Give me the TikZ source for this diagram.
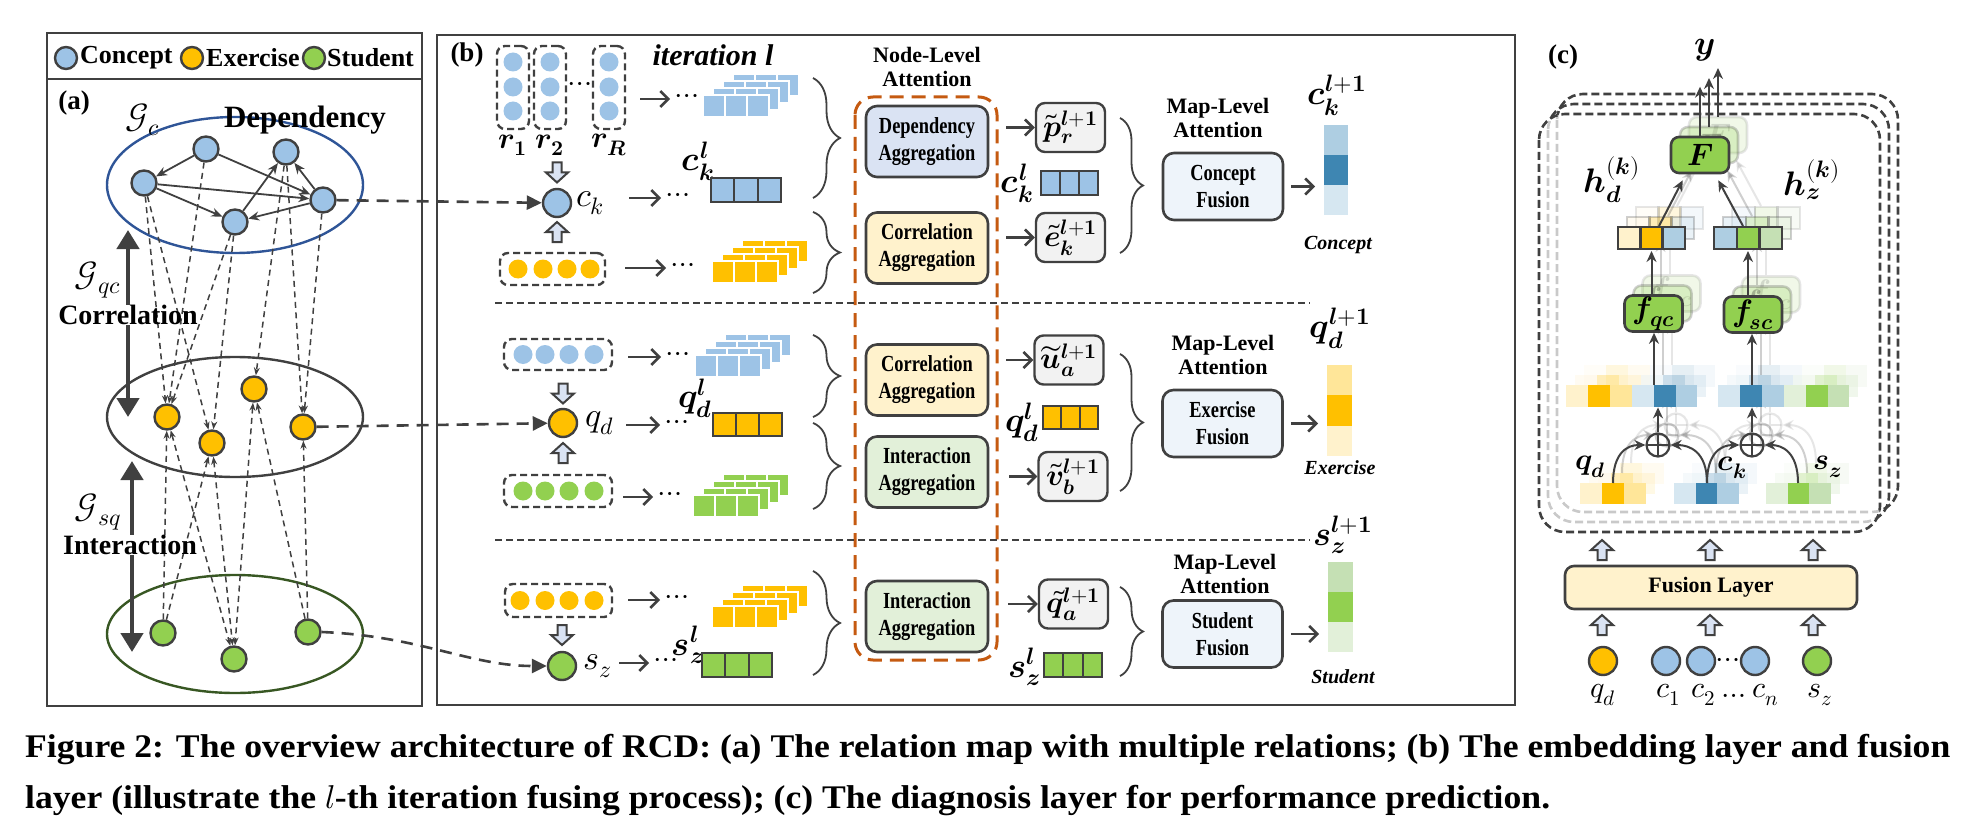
\documentclass[tikz,border=0pt]{standalone}
\usepackage{fontspec}
\usepackage{unicode-math}
\setmainfont{Liberation Serif}
\newfontfamily\condfont{Liberation Serif}[FakeStretch=0.8]
\newfontfamily\capfont{Liberation Serif}[FakeStretch=1.08]
\usetikzlibrary{arrows.meta,calc,positioning,decorations.pathreplacing}

\definecolor{darkline}{HTML}{404040}
\definecolor{cblue}{HTML}{9DC3E6}
\definecolor{eorange}{HTML}{FFC000}
\definecolor{sgreen}{HTML}{92D050}
\definecolor{gcring}{HTML}{2F5597}
\definecolor{gsring}{HTML}{385723}
\definecolor{attnorange}{HTML}{C55A11}
\definecolor{depfill}{HTML}{DAE3F3}
\definecolor{corfill}{HTML}{FFF2CC}
\definecolor{intfill}{HTML}{E2F0D9}
\definecolor{fusefill}{HTML}{EEF4FA}
\definecolor{tilfill}{HTML}{F2F2F2}
\definecolor{cbarA}{HTML}{AECEE2}
\definecolor{cbarB}{HTML}{3E86B2}
\definecolor{cbarC}{HTML}{D6E7F1}
\definecolor{ebarA}{HTML}{FFE699}
\definecolor{sbarA}{HTML}{C5E0B4}

\newcommand{\bv}[1]{\symbfit{#1}}
% row of cells: x, y, cell width, height, colours, extra path options
\newcommand{\cellrow}[6]{%
  \foreach \cc [count=\i from 0] in {#5}
    {\path[fill=\cc,#6] ({#1+#3*\i},#2) rectangle ++(#3,#4);}}
% stacked embedding tiles: front top-left x, y, colour
\newcommand{\tilestack}[3]{%
  \foreach \k in {3,2,1,0}{\foreach \i in {0,1,2}{%
    \path[fill=#3,draw=white,line width=1.4pt]
      ({#1+22*\i+10*\k},{#2-7*\k}) rectangle ++(22,22);}}}

\tikzset{
  cnode/.style={circle, draw=darkline, line width=2.4pt, fill=cblue, minimum size=25pt, inner sep=0pt},
  enode/.style={cnode, fill=eorange},
  snode/.style={cnode, fill=sgreen},
  legnode/.style={cnode, minimum size=22pt, fill=#1},
  emb/.style={circle, fill=#1, minimum size=19pt, inner sep=0pt},
  grp/.style={draw=darkline, line width=2.4pt, dash pattern=on 7pt off 4pt, rounded corners=8pt, inner sep=0pt},
  dep/.style={draw=darkline, line width=1.8pt, -{Stealth[length=11pt,width=9pt]}},
  rel/.style={draw=darkline, line width=1.5pt, dash pattern=on 6pt off 4.5pt},
  relto/.style={rel, -{Stealth[length=8pt,width=6pt]}},
  reltwo/.style={rel, {Stealth[length=8pt,width=6pt]}-{Stealth[length=8pt,width=6pt]}},
  bridge/.style={draw=darkline, line width=2.6pt, dash pattern=on 12pt off 8pt, -{Triangle[length=15pt,width=14pt]}},
  twoway/.style={draw=darkline, line width=4.5pt, -{Triangle[length=19pt,width=22pt]}},
  flow/.style={draw=darkline, line width=2.6pt, -{Straight Barb[length=8pt,width=16pt]}},
  flowc/.style={draw=darkline, line width=2pt, -{Stealth[length=11pt,width=10pt]}},
  sepline/.style={draw=darkline, line width=1.6pt, dash pattern=on 7pt off 4pt},
  curly/.style={draw=darkline, line width=1.8pt, decorate, decoration={brace, amplitude=#1, aspect=0.5}},
  aggbox/.style={draw=darkline, line width=2.6pt, rounded corners=11pt, fill=#1, minimum width=122pt, minimum height=71pt, inner sep=0pt, align=center, font=\condfont\bfseries\fontsize{23}{27}\selectfont},
  fusebox/.style={aggbox=fusefill, minimum width=120pt, minimum height=67pt},
  tbox/.style={draw=darkline, line width=2.4pt, rounded corners=9pt, fill=tilfill, minimum width=69pt, minimum height=49pt, inner sep=0pt, font=\fontsize{30}{30}\selectfont},
  gbox/.style={draw=darkline, line width=2.6pt, rounded corners=8pt, fill=sgreen, minimum width=58pt, minimum height=36pt, inner sep=0pt, font=\fontsize{31}{31}\selectfont},
  stackframe/.style={draw=darkline, line width=2.6pt, dash pattern=on 8pt off 4pt, rounded corners=26pt},
  oplus/.style={circle, draw=darkline, line width=2.2pt, minimum size=23pt, inner sep=0pt,
    path picture={\draw[darkline, line width=2pt] (path picture bounding box.north) -- (path picture bounding box.south)
      (path picture bounding box.west) -- (path picture bounding box.east);}},
  mbig/.style={inner sep=0pt, font=\fontsize{34}{34}\selectfont},
  mmid/.style={inner sep=0pt, font=\fontsize{30}{30}\selectfont},
  lbl/.style={inner sep=0pt, font=\bfseries\fontsize{#1}{#1}\selectfont},
  ilbl/.style={inner sep=0pt, font=\bfseries\itshape\fontsize{#1}{#1}\selectfont},
  head2/.style={inner sep=0pt, align=center, font=\bfseries\fontsize{22}{24}\selectfont},
  captext/.style={inner sep=0pt, anchor=west, font=\capfont\bfseries\fontsize{33}{33}\selectfont},
  hollowup/.pic={\path[draw=darkline, line width=2pt, fill=depfill, line join=miter]
    (-4.5,10) -- (-4.5,0) -- (-11,0) -- (0,-10) -- (11,0) -- (4.5,0) -- (4.5,10) -- cycle;}
}

% one layer of the diagnosis block
\newcommand{\diagcore}{%
  \node[gbox] (F) at (1700,155) {$\bv{F}$};
  \cellrow{1618}{227}{22.3}{22}{corfill,eorange,cbarA}{draw=darkline,line width=2.4pt}
  \cellrow{1714}{227}{22.7}{22}{cbarA,sgreen,sbarA}{draw=darkline,line width=2.4pt}
  \coordinate (hd) at (1651.5,238);
  \coordinate (hz) at (1748,238);
  \draw[flowc] ($(hd)+(7.5,-12)$) -- ($(F.south west)+(13,6)$);
  \draw[flowc] ($(hz)+(-5,-12)$) -- ($(F.south east)+(-12,6)$);
  \node[gbox] (fqc) at (1653.5,313.5) {$\bv{f}_{\bv{qc}}$};
  \node[gbox] (fsc) at (1753,314.5) {$\bv{f}_{\bv{sc}}$};
  \draw[flowc] (fqc.north -| hd) -- ($(hd)+(0,13)$);
  \draw[flowc] (fsc.north -| hz) -- ($(hz)+(0,13)$);
  \cellrow{1566}{385}{21.9}{22}{corfill,eorange,ebarA,cbarC,cbarB,cbarA}{}
  \cellrow{1718}{385}{21.9}{22}{cbarC,cbarB,cbarA,intfill,sgreen,sbarA}{}
  \coordinate (lrl) at (1654,385);
  \coordinate (lrr) at (1752,385);
  \draw[flowc] (lrl) -- (fqc.south -| lrl);
  \draw[flowc] (lrr) -- (fsc.south -| lrr);
  \node[oplus] (p1) at (1658,445) {};
  \node[oplus] (p2) at (1752,445) {};
  \draw[flowc] (p1.north) -- ++(0,-25);
  \draw[flowc] (p2.north) -- ++(0,-25);
  \cellrow{1580}{483}{22}{21}{corfill,eorange,ebarA}{}
  \cellrow{1674}{483}{21.7}{21}{cbarC,cbarB,cbarA}{}
  \cellrow{1766}{483}{21.7}{21}{intfill,sgreen,sbarA}{}
  \coordinate (qdv) at (1613,483);
  \coordinate (ckv) at (1707,483);
  \coordinate (szv) at (1798,483);
  \draw[flowc] (qdv) .. controls (1613,452) and (1628,445) .. (p1.west);
  \draw[flowc] (ckv) .. controls (1707,452) and (1690,445) .. (p1.east);
  \draw[flowc] (ckv) .. controls (1707,452) and (1722,445) .. (p2.west);
  \draw[flowc] (szv) .. controls (1798,452) and (1782,445) .. (p2.east);
}

\begin{document}
\begin{tikzpicture}[x=1pt,y=-1pt]
  \useasboundingbox (0,0) rectangle (1970,829);

  % ---------- (a) relation map ----------
  \draw[darkline, line width=2.6pt] (47,33) rectangle (422,706);
  \draw[darkline, line width=2.6pt] (47,79) -- (422,79);
  \node[legnode=cblue] (lc) at (66,58) {};
  \node[lbl=26, anchor=west] (lct) at (80,58) {Concept};
  \node[legnode=eorange] (le) at (192,58) {};
  \node[lbl=26, anchor=west] (let) at (206,58) {Exercise};
  \node[legnode=sgreen] (ls) at (314,58) {};
  \node[lbl=26, anchor=west] (lst) at (327,58) {Student};
  \node[lbl=27] (pa) at (74,103) {(a)};

  \draw[gcring, line width=2.4pt] (235,185) ellipse [x radius=128, y radius=68];
  \draw[darkline, line width=2.4pt] (235,417) ellipse [x radius=128, y radius=60];
  \draw[gsring, line width=2.4pt] (235,634) ellipse [x radius=128, y radius=59];
  \node[mbig] (gc) at (143,120) {$\mathcal{G}_c$};
  \node[lbl=31] (deplbl) at (305,120) {Dependency};

  \node[cnode] (c1) at (206,149) {};
  \node[cnode] (c2) at (286,152) {};
  \node[cnode] (c3) at (144,183) {};
  \node[cnode] (c4) at (323,200) {};
  \node[cnode] (c5) at (235,222) {};
  \node[enode] (e1) at (167,417) {};
  \node[enode] (e2) at (212,443) {};
  \node[enode] (e3) at (254,389) {};
  \node[enode] (e4) at (303,427) {};
  \node[snode] (s1) at (163,633) {};
  \node[snode] (s2) at (234,659) {};
  \node[snode] (s3) at (308,632) {};

  \foreach \a/\b in {c1/c3,c1/c4,c3/c4,c3/c5,c4/c2,c5/c2,c4/c5}
    \draw[dep] (\a) -- (\b);
  \foreach \a/\b in {c3/e1,c3/e2,c1/e1,c5/e1,c5/e2,c2/e3,c2/e4,c4/e4}
    \draw[relto] (\a) -- (\b);
  \foreach \a/\b in {s1/e1,s1/e2,s3/e3,s3/e4}
    \draw[relto] (\a) -- (\b);
  \foreach \a/\b in {e1/s2,e2/s2,e3/s2}
    \draw[reltwo] (\a) -- (\b);

  % relation arrows on the left
  \node[lbl=28] (corr) at (128,315) {Correlation};
  \coordinate (corrtop) at (128,230);
  \coordinate (corrbot) at (128,417);
  \draw[twoway] (corr.north) -- (corrtop);
  \draw[twoway] (corr.south) -- (corrbot);
  \node[mbig] (gqc) at (98,280) {$\mathcal{G}_{qc}$};
  \node[lbl=28] (inter) at (130,545) {Interaction};
  \coordinate (intertop) at (132,461);
  \coordinate (interbot) at (132,652);
  \draw[twoway] (inter.north -| intertop) -- (intertop);
  \draw[twoway] (inter.south -| interbot) -- (interbot);
  \node[mbig] (gsq) at (98,512) {$\mathcal{G}_{sq}$};

  % ---------- (b) embedding and fusion layer ----------
  \draw[darkline, line width=2.6pt] (437,35) rectangle (1515,705);
  \node[lbl=27] (pb) at (467,55) {(b)};
  \node[ilbl=30] (iterlbl) at (713,55) {iteration l};
  \node[head2] (nodeatt) at (927,67) {Node-Level\\Attention};
  \draw[attnorange, line width=3pt, dash pattern=on 14pt off 8pt, rounded corners=18pt]
    (855,97) rectangle (997,660);
  \draw[sepline] (495,303) -- (1310,303);
  \draw[sepline] (495,540) -- (1310,540);

  % concept row
  \foreach \x/\nm/\sub in {513/1/\symbf{1},550/2/\symbf{2},609/R/\bv{R}}{
    \node[grp, minimum width=32pt, minimum height=83pt] (rg\nm) at (\x,87.5) {};
    \foreach \y in {62,87,111} \node[emb=cblue] (r\nm-\y) at (\x,\y) {};
    \node[mmid] (rl\nm) at (\x,145) {$\bv{r}_{\sub}$};
  }
  \node[mmid] (rdots) at (580,87) {$\cdots$};
  \pic[rotate=180] at (557,172.5) {hollowup};
  \node[cnode, minimum size=28pt] (ck) at (557,203) {};
  \pic at (557,232) {hollowup};
  \node[mbig] (cklbl) at (590,203) {$c_k$};
  \node[grp, minimum width=105pt, minimum height=32pt] (qgrp1) at (552.5,269) {};
  \foreach \x in {518,543,567,590} \node[emb=eorange] (qa\x) at (\x,269) {};

  \node[mmid] (rflowdots) at (687,99) {$\cdots$};
  \node[mmid] (ckdots) at (678,198) {$\cdots$};
  \node[mmid] (qdots1) at (683,268) {$\cdots$};
  \coordinate (rstart) at (640,99);
  \coordinate (ckstart) at (629,198);
  \coordinate (qstart1) at (625,268);
  \draw[flow, shorten >=5pt] (rstart) -- (rflowdots.west);
  \draw[flow, shorten >=5pt] (ckstart) -- (ckdots.west);
  \draw[flow, shorten >=5pt] (qstart1) -- (qdots1.west);
  \tilestack{703}{95}{cblue}
  \tilestack{712}{261}{eorange}
  \node[mbig] (ckl1) at (698,161) {$\bv{c}_{\bv{k}}^{\bv{l}}$};
  \cellrow{711}{178}{23.3}{24}{cblue,cblue,cblue}{draw=darkline,line width=2.2pt}
  \draw[curly=27pt] (813,78) -- (813,198);
  \draw[curly=27pt] (813,212) -- (813,293);

  \node[aggbox=depfill] (depagg1) at (927,141.5) {Dependency\\Aggregation};
  \node[aggbox=corfill] (coragg1) at (927,248) {Correlation\\Aggregation};
  \node[tbox] (ptil) at (1070.5,127.5) {$\widetilde{\bv{p}}_{\bv{r}}^{\bv{l}+\symbf{1}}$};
  \node[tbox] (etil) at (1070.5,237.5) {$\widetilde{\bv{e}}_{\bv{k}}^{\bv{l}+\symbf{1}}$};
  \draw[flow, shorten <=17pt] (depagg1.east |- ptil.west) -- (ptil.west);
  \draw[flow, shorten <=17pt] (coragg1.east |- etil.west) -- (etil.west);
  \node[mbig] (ckl2) at (1017,183) {$\bv{c}_{\bv{k}}^{\bv{l}}$};
  \cellrow{1041}{171}{19}{24}{cblue,cblue,cblue}{draw=darkline,line width=2.2pt}
  \draw[curly=23pt] (1120,118) -- (1120,253);
  \node[head2] (mapatt1) at (1218,118) {Map-Level\\Attention};
  \node[fusebox] (cfuse) at (1223,186.5) {Concept\\Fusion};
  \foreach \cc [count=\i from 0] in {cbarA,cbarB,cbarC}
    \fill[\cc] (1324,{125+30*\i}) rectangle ++(24,30);
  \coordinate (cbarw) at (1324,186.5);
  \draw[flow, shorten <=7pt, shorten >=9pt] (cfuse.east) -- (cbarw);
  \node[mbig] (cknext) at (1337,95) {$\bv{c}_{\bv{k}}^{\bv{l}+\symbf{1}}$};
  \node[ilbl=20] (cname) at (1338,245) {Concept};

  % exercise row
  \node[grp, minimum width=108pt, minimum height=31pt] (cgrp2) at (558,354.5) {};
  \foreach \x in {523,545,569,594} \node[emb=cblue] (cb\x) at (\x,354.5) {};
  \pic[rotate=180] at (563,393.5) {hollowup};
  \node[enode, minimum size=28pt] (qd) at (563,423) {};
  \pic at (563,453) {hollowup};
  \node[mbig] (qdlbl) at (600,423) {$q_d$};
  \node[grp, minimum width=108pt, minimum height=32pt] (sgrp2) at (558,491) {};
  \foreach \x in {523,545,569,594} \node[emb=sgreen] (sb\x) at (\x,491) {};

  \node[mmid] (cdots2) at (678,357) {$\cdots$};
  \node[mmid] (qddots) at (677,425) {$\cdots$};
  \node[mmid] (sdots2) at (670,497) {$\cdots$};
  \coordinate (cstart2) at (628,357);
  \coordinate (qdstart) at (626,425);
  \coordinate (sstart2) at (623,497);
  \draw[flow, shorten >=5pt] (cstart2) -- (cdots2.west);
  \draw[flow, shorten >=5pt] (qdstart) -- (qddots.west);
  \draw[flow, shorten >=5pt] (sstart2) -- (sdots2.west);
  \tilestack{695}{355}{cblue}
  \tilestack{693}{495}{sgreen}
  \node[mbig] (qdl1) at (695,398) {$\bv{q}_{\bv{d}}^{\bv{l}}$};
  \cellrow{713}{413}{23}{23}{eorange,eorange,eorange}{draw=darkline,line width=2.2pt}
  \draw[curly=27pt] (813,335) -- (813,417);
  \draw[curly=27pt] (813,423) -- (813,509);

  \node[aggbox=corfill] (coragg2) at (927,380) {Correlation\\Aggregation};
  \node[aggbox=intfill] (intagg2) at (927,472) {Interaction\\Aggregation};
  \node[tbox] (util) at (1069,360) {$\widetilde{\bv{u}}_{\bv{a}}^{\bv{l}+\symbf{1}}$};
  \node[tbox] (vtil) at (1073,476.5) {$\widetilde{\bv{v}}_{\bv{b}}^{\bv{l}+\symbf{1}}$};
  \draw[flow, shorten <=17pt] (coragg2.east |- util.west) -- (util.west);
  \draw[flow, shorten <=20pt] (intagg2.east |- vtil.west) -- (vtil.west);
  \node[mbig] (qdl2) at (1022,422) {$\bv{q}_{\bv{d}}^{\bv{l}}$};
  \cellrow{1043}{406}{18.3}{23}{eorange,eorange,eorange}{draw=darkline,line width=2.2pt}
  \draw[curly=23pt] (1120,354) -- (1120,491);
  \node[head2] (mapatt2) at (1223,355) {Map-Level\\Attention};
  \node[fusebox] (efuse) at (1222.5,423.5) {Exercise\\Fusion};
  \foreach \cc [count=\i from 0] in {ebarA,eorange,corfill}
    \fill[\cc] (1327,{365+30.3*\i}) rectangle ++(25,30.3);
  \coordinate (ebarw) at (1327,423.5);
  \draw[flow, shorten <=7pt, shorten >=9pt] (efuse.east) -- (ebarw);
  \node[mbig] (qdnext) at (1340,328) {$\bv{q}_{\bv{d}}^{\bv{l}+\symbf{1}}$};
  \node[ilbl=20] (ename) at (1340,468) {Exercise};

  % student row
  \node[grp, minimum width=107pt, minimum height=33pt] (qgrp3) at (558.5,600.5) {};
  \foreach \x in {520,545,569,594} \node[emb=eorange] (qc\x) at (\x,600.5) {};
  \pic[rotate=180] at (562,635) {hollowup};
  \node[snode, minimum size=28pt] (sz) at (562,666) {};
  \node[mbig] (szlbl) at (598,666) {$s_z$};
  \node[mmid] (qdots3) at (677,600) {$\cdots$};
  \node[mmid] (szdots) at (666,663) {$\cdots$};
  \coordinate (qstart3) at (628,600);
  \coordinate (szstart) at (619,663);
  \draw[flow, shorten >=5pt] (qstart3) -- (qdots3.west);
  \draw[flow, shorten >=5pt] (szstart) -- (szdots.west);
  \tilestack{712}{606}{eorange}
  \node[mbig] (szl1) at (688,645) {$\bv{s}_{\bv{z}}^{\bv{l}}$};
  \cellrow{702}{653}{23.3}{24}{sgreen,sgreen,sgreen}{draw=darkline,line width=2.2pt}
  \draw[curly=27pt] (813,571) -- (813,675);

  \node[aggbox=intfill] (intagg3) at (927,616.5) {Interaction\\Aggregation};
  \node[tbox] (qtil) at (1073.5,604) {$\widetilde{\bv{q}}_{\bv{a}}^{\bv{l}+\symbf{1}}$};
  \draw[flow, shorten <=19pt] (intagg3.east |- qtil.west) -- (qtil.west);
  \node[mbig] (szl2) at (1024,667) {$\bv{s}_{\bv{z}}^{\bv{l}}$};
  \cellrow{1044}{653}{19.3}{24}{sgreen,sgreen,sgreen}{draw=darkline,line width=2.2pt}
  \draw[curly=23pt] (1120,587) -- (1120,676);
  \node[head2] (mapatt3) at (1225,574) {Map-Level\\Attention};
  \node[fusebox] (sfuse) at (1222.5,634) {Student\\Fusion};
  \foreach \cc [count=\i from 0] in {sbarA,sgreen,intfill}
    \fill[\cc] (1328,{562+30*\i}) rectangle ++(25,30);
  \coordinate (sbarw) at (1328,634);
  \draw[flow, shorten <=7pt, shorten >=9pt] (sfuse.east) -- (sbarw);
  \node[mbig] (sznext) at (1343,535) {$\bv{s}_{\bv{z}}^{\bv{l}+\symbf{1}}$};
  \node[ilbl=20] (sname) at (1343,677) {Student};

  % links from the relation map
  \draw[bridge] (c4) -- (ck);
  \draw[bridge] (e4) -- (qd);
  \draw[bridge] (s3.east) .. controls (420,636) and (470,666) .. (sz.west);

  % ---------- (c) diagnosis layer ----------
  \node[lbl=27] (pc) at (1563,57) {(c)};
  \foreach \k in {2,1}
    \draw[stackframe] ({1539+9*\k},{114-10*\k}) rectangle ({1880+9*\k},{532-10*\k});
  \fill[white, opacity=0.72, rounded corners=26pt] (1539,114) rectangle (1880,532);
  \foreach \k/\op in {2/0.13,1/0.25}{
    \begin{scope}[shift={({9*\k},{-10*\k})}, opacity=\op]
      \diagcore
    \end{scope}}
  \draw[stackframe] (1539,114) rectangle (1880,532);
  \diagcore
  \draw[flowc] (F.north) -- ++(0,-49);
  \foreach \k in {1,2}
    \draw[flowc] ({1700+9*\k},{137-10*\k}) -- ++(0,-49);
  \node[mbig] (ylbl) at (1705,50) {$\bv{y}$};
  \node[mbig] (hdl) at (1612,180) {$\bv{h}_{\bv{d}}^{(\bv{k})}$};
  \node[mbig] (hzl) at (1812,180) {$\bv{h}_{\bv{z}}^{(\bv{k})}$};
  \node[mmid] (qdl) at (1590,467) {$\bv{q}_{\bv{d}}$};
  \node[mmid] (ckl) at (1732,468) {$\bv{c}_{\bv{k}}$};
  \node[mmid] (szl) at (1828,467) {$\bv{s}_{\bv{z}}$};

  \foreach \x in {1602,1710,1813}{
    \pic at (\x,550) {hollowup};
    \pic at (\x,625) {hollowup};
  }
  \node[draw=darkline, line width=2.6pt, rounded corners=9pt, fill=corfill, minimum width=292pt,
        minimum height=43pt, inner sep=0pt, font=\bfseries\fontsize{22}{22}\selectfont]
        (fuselayer) at (1711,587.5) {Fusion Layer};
  \node[enode, minimum size=28pt] (bq) at (1603,661) {};
  \node[cnode, minimum size=28pt] (bc1) at (1666,661) {};
  \node[cnode, minimum size=28pt] (bc2) at (1701,661) {};
  \node[mmid] (bdots) at (1728,663) {$\cdots$};
  \node[cnode, minimum size=28pt] (bcn) at (1755,661) {};
  \node[snode, minimum size=28pt] (bs) at (1817,661) {};
  \node[mmid] (lq) at (1603,695) {$q_d$};
  \node[mmid] (lc1) at (1668,695) {$c_1$};
  \node[mmid] (lc2) at (1703,695) {$c_2$};
  \node[mmid] (lcn) at (1750,695) {$\ldots c_n$};
  \node[mmid] (lsz) at (1820,695) {$s_z$};

  % ---------- caption ----------
  \node[captext] (cap1) at (25,750) {Figure 2: The overview architecture of RCD: (a) The relation map with multiple relations; (b) The embedding layer and fusion};
  \node[captext] (cap2) at (25,801) {layer (illustrate the $l$-th iteration fusing process); (c) The diagnosis layer for performance prediction.};
\end{tikzpicture}
\end{document}
